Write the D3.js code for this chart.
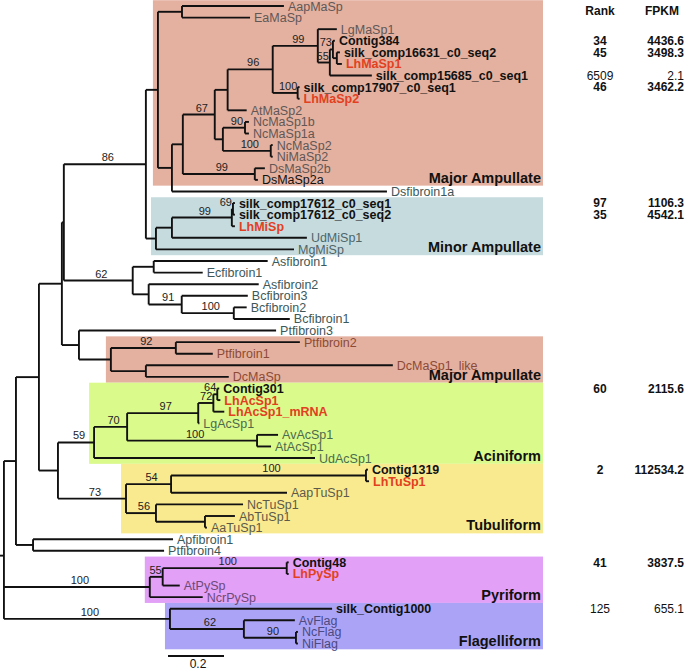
<!DOCTYPE html>
<html><head><meta charset="utf-8">
<script src="https://cdn.jsdelivr.net/npm/d3@7"></script>
<style>
body{margin:0;background:#fff}
svg{display:block}
text{font-family:"Liberation Sans",Arial,Helvetica,sans-serif}
</style>
</head><body>
<svg id="chart" width="685" height="671"></svg>
<script>
// ---- DATA ----
// [id, parent, branch length (substitutions/site), bootstrap support]
const treeNodes = [
  ["root", null, 0.014, null],
  ["n16", "root", 0.043, null],
  ["n38", "n16", 0.082, null],
  ["n62", "n38", 0.082, null],
  ["n64", "n62", 0.007, null],
  ["nH", "n64", 0.293, 86],
  ["n158", "nH", 0.043, null],
  ["nAE", "n158", 0.086, null],
  ["AapMaSp", "nAE", 0.364, null],
  ["EaMaSp", "nAE", 0.243, null],
  ["n172", "n158", 0.050, null],
  ["n183", "n172", 0.039, null],
  ["n215", "n183", 0.114, 67],
  ["n228", "n215", 0.046, null],
  ["n273", "n228", 0.161, 96],
  ["nP", "n273", 0.161, 99],
  ["LgMaSp1", "nP", 0.068, null],
  ["nQ", "nP", 0.043, 55],
  ["nR", "nQ", 0.011, 73],
  ["Contig384", "nR", 0.007, null],
  ["nS", "nR", 0.014, null],
  ["silk_comp16631_c0_seq2", "nS", 0.011, null],
  ["LhMaSp1", "nS", 0.018, null],
  ["silk_comp15685_c0_seq1", "nQ", 0.150, null],
  ["nT", "n273", 0.089, 100],
  ["silk_comp17907_c0_seq1", "nT", 0.007, null],
  ["LhMaSp2", "nT", 0.007, null],
  ["AtMaSp2", "n228", 0.068, null],
  ["n223", "n215", 0.029, null],
  ["nNc1", "n223", 0.079, 90],
  ["NcMaSp1b", "nNc1", 0.014, null],
  ["NcMaSp1a", "nNc1", 0.014, null],
  ["nNc2", "n223", 0.171, 100],
  ["NcMaSp2", "nNc2", 0.007, null],
  ["NiMaSp2", "nNc2", 0.007, null],
  ["nDs", "n183", 0.257, 99],
  ["DsMaSp2b", "nDs", 0.036, null],
  ["DsMaSp2a", "nDs", 0.011, null],
  ["Dsfibroin1a", "n172", 0.768, null],
  ["nI", "nH", 0.036, null],
  ["nJ", "nI", 0.057, null],
  ["nK", "nJ", 0.214, 99],
  ["nL", "nK", 0.004, 69],
  ["silk_comp17612_c0_seq1", "nL", 0.007, null],
  ["silk_comp17612_c0_seq2", "nL", 0.007, null],
  ["LhMiSp", "nK", 0.011, null],
  ["UdMiSp1", "nJ", 0.482, null],
  ["MgMiSp", "nI", 0.493, null],
  ["nE", "n64", 0.246, 62],
  ["nAE2", "nE", 0.075, null],
  ["Asfibroin1", "nAE2", 0.407, null],
  ["Ecfibroin1", "nAE2", 0.175, null],
  ["nF0", "nE", 0.057, null],
  ["Asfibroin2", "nF0", 0.393, null],
  ["nF", "nF0", 0.118, 91],
  ["Bcfibroin3", "nF", 0.236, null],
  ["nG", "nF", 0.186, 100],
  ["Bcfibroin2", "nG", 0.046, null],
  ["Bcfibroin1", "nG", 0.200, null],
  ["n79", "n62", 0.061, null],
  ["Ptfibroin3", "n79", 0.704, null],
  ["nD", "n79", 0.114, null],
  ["nPt", "nD", 0.232, 92],
  ["Ptfibroin2", "nPt", 0.443, null],
  ["Ptfibroin1", "nPt", 0.132, null],
  ["nDc", "nD", 0.125, null],
  ["DcMaSp1_like", "nDc", 0.882, null],
  ["DcMaSp", "nDc", 0.296, null],
  ["n58", "n38", 0.068, null],
  ["nAc", "n58", 0.129, 59],
  ["nAc2", "nAc", 0.118, 70],
  ["nLg", "nAc2", 0.254, 97],
  ["nAc3", "nLg", 0.054, 72],
  ["nAc4", "nAc3", 0.014, 64],
  ["Contig301", "nAc4", 0.007, null],
  ["LhAcSp1", "nAc4", 0.011, null],
  ["LhAcSp1_mRNA", "nAc3", 0.039, null],
  ["LgAcSp1", "nLg", 0.004, null],
  ["nAv", "nAc2", 0.464, 100],
  ["AvAcSp1", "nAv", 0.075, null],
  ["AtAcSp1", "nAv", 0.050, null],
  ["UdAcSp1", "nAc", 0.789, null],
  ["nTu", "n58", 0.243, 73],
  ["nTu1", "nTu", 0.161, 54],
  ["nTc", "nTu1", 0.696, 100],
  ["Contig1319", "nTc", 0.007, null],
  ["LhTuSp1", "nTc", 0.011, null],
  ["AapTuSp1", "nTu1", 0.414, null],
  ["nTu2", "nTu", 0.107, 56],
  ["NcTuSp1", "nTu2", 0.311, null],
  ["nTu3", "nTu2", 0.175, null],
  ["AbTuSp1", "nTu3", 0.107, null],
  ["AaTuSp1", "nTu3", 0.007, null],
  ["nAp", "n16", 0.061, null],
  ["Apfibroin1", "nAp", 0.500, null],
  ["Ptfibroin4", "nAp", 0.468, null],
  ["nPy", "root", 0.521, 100],
  ["nPy1", "nPy", 0.046, 55],
  ["nPy2", "nPy1", 0.443, 100],
  ["Contig48", "nPy2", 0.007, null],
  ["LhPySp", "nPy2", 0.007, null],
  ["AtPySp", "nPy1", 0.061, null],
  ["NcrPySp", "nPy", 0.189, null],
  ["nFl", "root", 0.593, 100],
  ["silk_Contig1000", "nFl", 0.579, null],
  ["nFl1", "nFl", 0.264, 62],
  ["AvFlag", "nFl1", 0.182, null],
  ["nFl2", "nFl1", 0.186, 90],
  ["NcFlag", "nFl2", 0.007, null],
  ["NiFlag", "nFl2", 0.007, null]
];

// transcriptome contigs (bold black) and Latrodectus hesperus silk genes (bold red)
const contigLeaves = ["Contig384","silk_comp16631_c0_seq2","silk_comp15685_c0_seq1","silk_comp17907_c0_seq1",
  "silk_comp17612_c0_seq1","silk_comp17612_c0_seq2","Contig301","Contig1319","Contig48","silk_Contig1000"];
const lhLeaves = ["LhMaSp1","LhMaSp2","LhMiSp","LhAcSp1","LhAcSp1_mRNA","LhTuSp1","LhPySp"];
const blackLeaves = ["DsMaSp2a"];

// silk gland groups
const groupNames = ["Major Ampullate","Minor Ampullate","Major Ampullate","Aciniform","Tubuliform","Pyriform","Flagelliform"];
const groupKinds = ["ma","mi","ma2","ac","tu","py","fl"];
const groupFirst = ["AapMaSp","silk_comp17612_c0_seq1","Ptfibroin2","Contig301","Contig1319","Contig48","silk_Contig1000"];
const groupLast  = ["DsMaSp2a","MgMiSp","DcMaSp","UdAcSp1","AaTuSp1","NcrPySp","NiFlag"];
const groupClade = ["n158","nI","nD","nAc","nTu","nPy","nFl"];

// expression table
const exprLeaves = ["Contig384","silk_comp16631_c0_seq2","silk_comp15685_c0_seq1","silk_comp17907_c0_seq1",
  "silk_comp17612_c0_seq1","silk_comp17612_c0_seq2","Contig301","Contig1319","Contig48","silk_Contig1000"];
const exprRank = ["34","45","6509","46","97","35","60","2","41","125"];
const exprFPKM = ["4436.6","3498.3","2.1","3462.2","1106.3","4542.1","2115.6","112534.2","3837.5","655.1"];
const exprHighlight = [true,true,false,true,true,true,true,true,true,false];
const scaleBarValue = 0.2;

// ---- STYLE ----
const fillOf = {ma:"#e4b1a0", mi:"#c6dbde", ma2:"#e4b1a0", ac:"#dafa8c", tu:"#f9ea8f", py:"#e2a0f6", fl:"#aba4f6"};
const textOf = {out:"#3d5858", ma:"#615756", mi:"#4e6669", ma2:"#8c4a36", ac:"#4d6a4d", tu:"#5c5a4a", py:"#6c4a78", fl:"#4b4a82"};
const RED = "#e2401f";

const svg = d3.select("#chart");

// ---- LAYOUT ----
const root = d3.stratify()
  .id(d => d.id).parentId(d => d.parent)
  (treeNodes.map(r => ({id:r[0], parent:r[1], len:r[2], sup:r[3]})));

const x = d3.scaleLinear().domain([0, 1]).range([0, 280]);
root.eachBefore(n => { n.dist = (n.parent ? n.parent.dist : 0) + n.data.len; n.px = x(n.dist); });
const leaves = root.leaves();
const y = d3.scaleLinear().domain([0, leaves.length - 1]).range([6, 643.5]);
const step = y(1) - y(0);
leaves.forEach((l, i) => { l.idx = i; l.py = y(i); });
root.eachAfter(n => { if (n.children) n.py = d3.mean(n.children, c => c.py); });
const byId = new Map(root.descendants().map(n => [n.id, n]));

// ---- GROUP BOXES ----
const groups = groupNames.map((name, i) => {
  const a = byId.get(groupFirst[i]), b = byId.get(groupLast[i]);
  return {name, kind: groupKinds[i], i0: a.idx, i1: b.idx,
    x0: byId.get(groupClade[i]).px - 5, y0: a.py - step / 2, y1: b.py + step / 2};
});
const boxRight = 543;
svg.append("g").selectAll("rect").data(groups).join("rect")
  .attr("x", d => d.x0).attr("y", d => Math.max(0, d.y0))
  .attr("width", d => boxRight - d.x0).attr("height", d => d.y1 - Math.max(0, d.y0))
  .attr("fill", d => fillOf[d.kind]);

// ---- BRANCHES ----
const gl = svg.append("g").attr("fill", "none").attr("stroke", "#111").attr("stroke-width", 1.9);
root.descendants().forEach(n => {
  const px0 = n.parent ? n.parent.px : x(0);
  gl.append("path").attr("d", `M${px0},${n.py}H${n.px}`);
  if (n.children) {
    const ys = n.children.map(c => c.py);
    gl.append("path").attr("d", `M${n.px},${d3.min(ys)}V${d3.max(ys)}`);
  }
});

// ---- SUPPORT VALUES ----
svg.append("g").selectAll("text")
  .data(root.descendants().filter(n => n.data.sup != null && n.parent))
  .join("text")
  .attr("font-size", 11).attr("fill", "#222")
  .each(function(n) {
    const bl = n.px - n.parent.px;
    const t = d3.select(this).attr("y", n.py - 3).text(n.data.sup);
    if (bl < 16) t.attr("x", n.px - 1).attr("text-anchor", "end");
    else t.attr("x", (n.px + n.parent.px) / 2 + 3).attr("text-anchor", "middle");
  });

// ---- LEAF LABELS ----
function groupOf(idx) { return groups.find(g => idx >= g.i0 && idx <= g.i1); }
svg.append("g").selectAll("text").data(leaves).join("text")
  .attr("x", d => d.px + 4).attr("y", d => d.py).attr("dy", "0.36em")
  .attr("font-size", 12.5)
  .attr("font-weight", d => (contigLeaves.includes(d.id) || lhLeaves.includes(d.id)) ? "bold" : "normal")
  .attr("fill", d => {
    if (lhLeaves.includes(d.id)) return RED;
    if (contigLeaves.includes(d.id) || blackLeaves.includes(d.id)) return "#111";
    const g = groupOf(d.idx);
    return textOf[g ? g.kind : "out"];
  })
  .text(d => d.id);

// ---- GROUP LABELS ----
svg.append("g").selectAll("text").data(groups).join("text")
  .attr("x", boxRight - 2).attr("y", d => d.y1 - 3)
  .attr("text-anchor", "end").attr("font-size", 14.5).attr("font-weight", "bold").attr("fill", "#111")
  .text(d => d.name);

// ---- EXPRESSION TABLE ----
const rankX = 600, fpkmX = 684;
const tg = svg.append("g").attr("font-size", 12).attr("fill", "#111");
tg.append("text").attr("x", rankX).attr("y", 15).attr("text-anchor", "middle").attr("font-weight", "bold").text("Rank");
tg.append("text").attr("x", 662).attr("y", 15).attr("text-anchor", "middle").attr("font-weight", "bold").text("FPKM");
exprLeaves.forEach((id, i) => {
  const n = byId.get(id);
  const w = exprHighlight[i] ? "bold" : "normal";
  tg.append("text").attr("x", rankX).attr("y", n.py).attr("dy", "0.36em").attr("text-anchor", "middle")
    .attr("font-weight", w).text(exprRank[i]);
  tg.append("text").attr("x", fpkmX).attr("y", n.py).attr("dy", "0.36em").attr("text-anchor", "end")
    .attr("font-weight", w).text(exprFPKM[i]);
});

// ---- SCALE BAR ----
const sbX = 168, sbY = 656;
const sbW = x(scaleBarValue) - x(0);
svg.append("path").attr("d", `M${sbX},${sbY}H${sbX + sbW}`).attr("stroke", "#111").attr("stroke-width", 1.8);
svg.append("text").attr("x", sbX + sbW / 2 + 2).attr("y", 668).attr("text-anchor", "middle")
  .attr("font-size", 12).attr("fill", "#111").text(scaleBarValue);
</script>
</body></html>
